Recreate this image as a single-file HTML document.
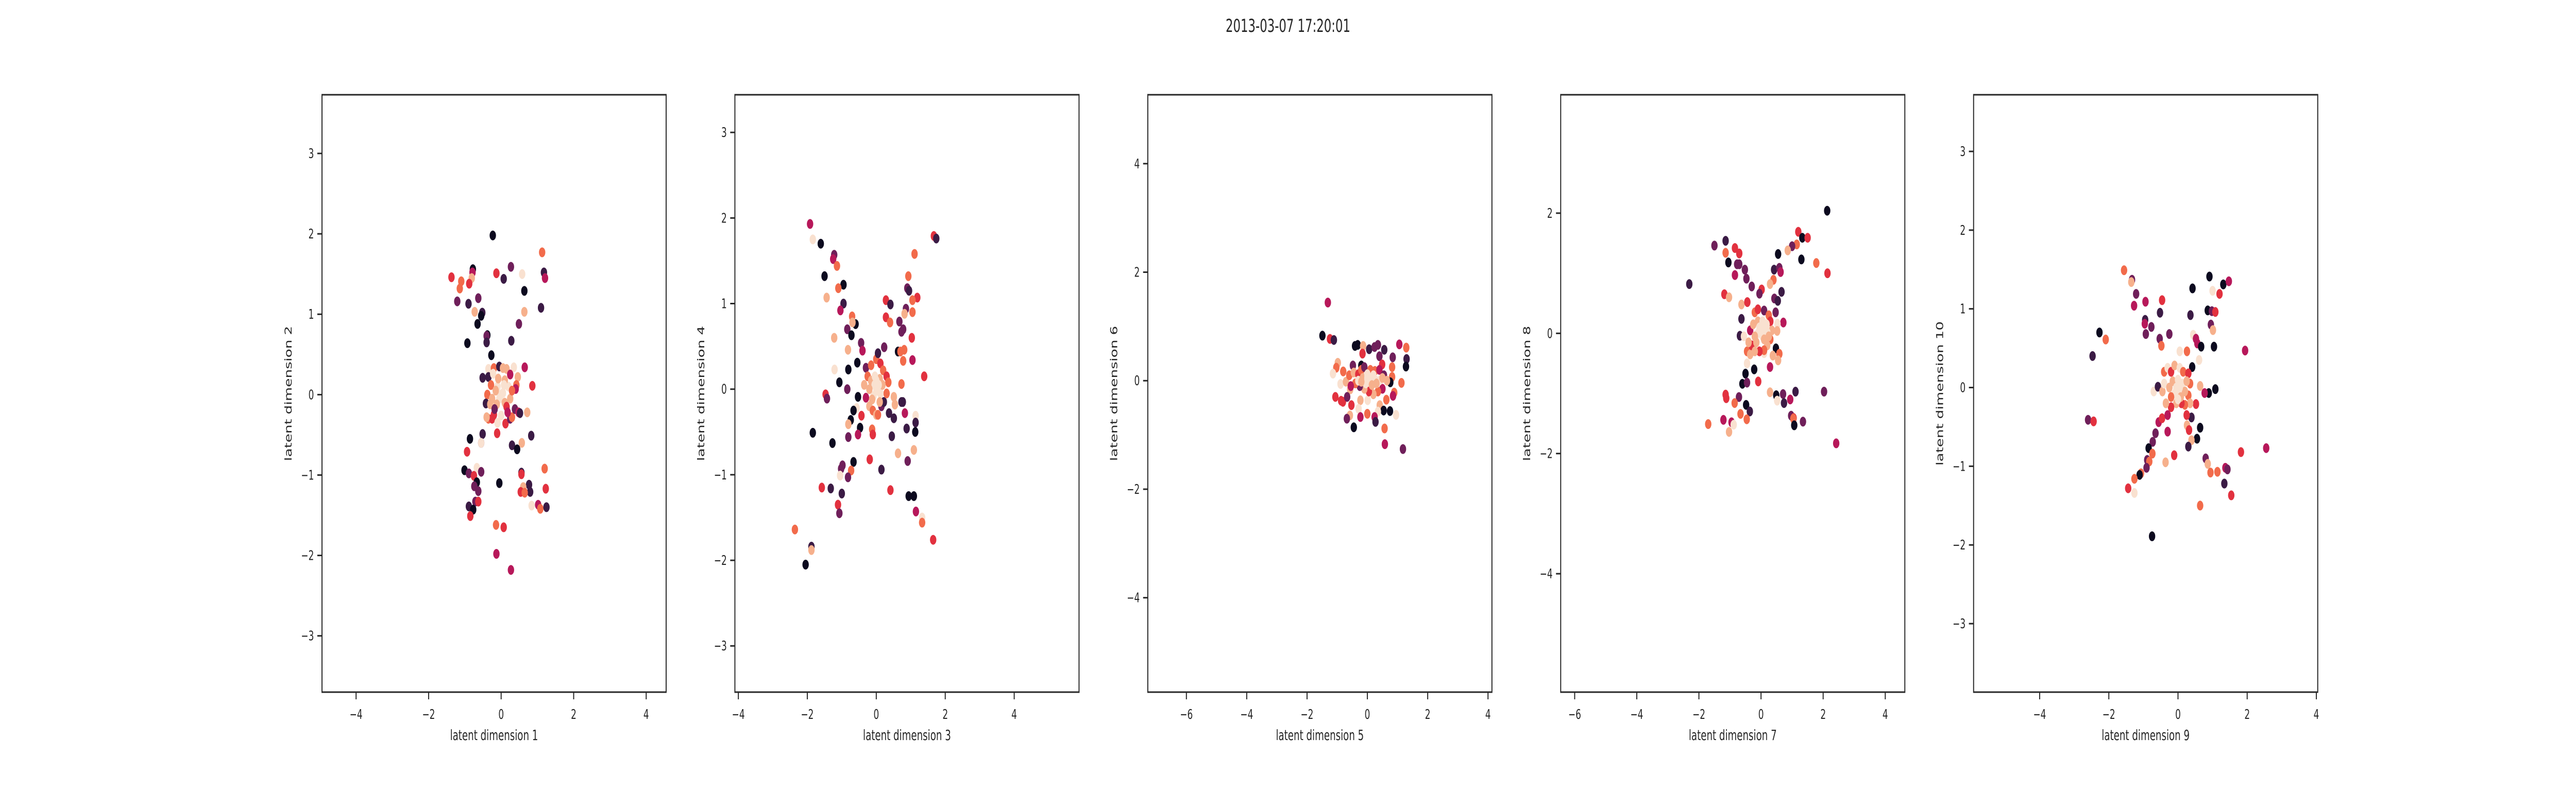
<!DOCTYPE html>
<html><head><meta charset="utf-8"><style>
html,body{margin:0;padding:0;background:#fff;overflow:hidden;width:100vw;height:100vh;}
svg{display:block;width:100vw;height:100vh;font-family:"DejaVu Sans","Liberation Sans",sans-serif;}
</style></head><body>
<svg id="fig" viewBox="0 0 7680 1536" preserveAspectRatio="none" xmlns="http://www.w3.org/2000/svg">
<rect width="7680" height="1536" fill="#fff"/>
<text x="3840" y="62" font-size="35" text-anchor="middle" fill="#262626">2013-03-07 17:20:01</text>
</svg>
<script>
const palette = ["#0c0a1f","#3b1b45","#6f1f5a","#b7185a","#e2313f","#f26b4b","#f6b08c","#f9e1d0"];
const xLabels = ["latent dimension 1","latent dimension 3","latent dimension 5","latent dimension 7","latent dimension 9"];
const yLabels = ["latent dimension 2","latent dimension 4","latent dimension 6","latent dimension 8","latent dimension 10"];
const xDomains = [[-4.94,4.55],[-4.10,5.88],[-7.28,4.13],[-6.45,4.63],[-5.91,4.04]];
const yDomains = [[-3.70,3.73],[-3.54,3.44],[-5.74,5.27],[-5.97,3.97],[-3.87,3.72]];
const xTicks = [[-4,-2,0,2,4],[-4,-2,0,2,4],[-6,-4,-2,0,2,4],[-6,-4,-2,0,2,4],[-4,-2,0,2,4]];
const yTicks = [[-3,-2,-1,0,1,2,3],[-3,-2,-1,0,1,2,3],[-4,-2,0,2,4],[-4,-2,0,2],[-3,-2,-1,0,1,2,3]];

const points1 = [[-0.23,1.98,0],[1.13,1.77,5],[0.27,1.59,2],[-0.78,1.56,0],[-0.79,1.52,3],[-0.13,1.51,4],[0.58,1.50,7],[1.18,1.52,1],[1.21,1.45,3],[-1.37,1.46,4],[0.07,1.44,1],[-1.10,1.41,5],[-0.81,1.45,6],[-0.88,1.38,4],[-1.14,1.32,5],[0.64,1.29,0],[-1.21,1.16,2],[-0.63,1.20,2],[-0.90,1.13,1],[1.10,1.08,1],[-0.73,1.03,6],[-0.52,1.02,1],[-0.55,0.98,0],[0.64,1.03,6],[-0.65,0.88,0],[0.49,0.88,2],[-0.38,0.74,0],[-0.40,0.73,2],[-0.40,0.65,1],[0.28,0.67,1],[-0.93,0.64,0],[-0.27,0.49,0],[0.65,0.34,3],[0.86,0.11,4],[-0.51,0.21,1],[0.72,-0.22,6],[-0.86,-0.55,0],[-0.51,-0.49,1],[-0.11,-0.48,4],[-0.55,-0.60,2],[-0.55,-0.60,7],[0.57,-0.60,6],[0.83,-0.51,1],[0.30,-0.63,1],[0.44,-0.68,0],[-0.94,-0.71,4],[-0.67,-0.91,7],[-1.01,-0.94,0],[-0.89,-0.98,2],[-0.55,-0.96,2],[-0.75,-1.01,4],[0.56,-0.97,1],[0.56,-0.99,4],[1.20,-0.92,5],[-0.67,-1.09,0],[-0.05,-1.10,0],[-0.74,-1.14,2],[-0.63,-1.20,2],[0.77,-1.12,1],[0.61,-1.15,6],[0.54,-1.21,4],[0.80,-1.21,1],[0.65,-1.22,5],[1.23,-1.17,4],[-0.71,-1.33,2],[-0.63,-1.33,4],[-0.89,-1.39,1],[-0.77,-1.43,0],[0.84,-1.38,7],[1.02,-1.37,3],[1.08,-1.42,5],[1.25,-1.40,1],[-0.85,-1.51,4],[-0.14,-1.62,5],[0.07,-1.65,4],[-0.13,-1.98,3],[0.27,-2.18,3],
[-0.35,0.32,7],[-0.2,0.33,5],[-0.05,0.35,1],[0.05,0.33,6],[0.15,0.32,6],[0.35,0.34,7],[0.25,0.25,3],[0.46,0.22,6],[0.42,0.12,5],[0.4,0.07,3],[-0.35,0.22,1],[-0.22,0.26,7],[-0.28,0.12,5],[-0.38,0.0,5],[-0.42,-0.11,1],[-0.3,-0.12,6],[-0.2,-0.25,4],[-0.35,-0.3,5],[-0.25,-0.3,4],[-0.4,-0.28,6],[-0.1,-0.35,7],[0.0,-0.26,7],[0.12,-0.36,4],[0.25,-0.3,2],[0.3,-0.28,5],[0.38,-0.18,2],[0.48,-0.22,3],[0.52,-0.23,1],[0.25,-0.05,6],[0.2,0.1,7],[0.1,0.18,6],[-0.1,0.1,7],[-0.05,-0.05,7],[0.05,0.02,7],[0.0,0.0,7],[-0.12,-0.12,6],[0.1,-0.1,6],[0.15,-0.15,4],[-0.15,0.05,6],[0.08,0.12,7],[-0.08,0.2,6],[0.3,0.05,5],[-0.25,-0.05,6],[0.18,-0.22,3],[-0.18,-0.18,2]];

const points2 = [[-1.92,1.93,3],[-1.84,1.75,7],[-1.61,1.70,0],[1.67,1.79,4],[1.74,1.76,1],[-1.22,1.57,2],[-1.25,1.52,3],[-1.14,1.44,5],[1.11,1.58,5],[-1.50,1.32,0],[0.93,1.32,5],[-0.95,1.22,0],[-1.10,1.18,5],[0.90,1.18,2],[0.95,1.15,1],[1.19,1.07,4],[-1.44,1.07,6],[0.28,1.04,4],[1.05,1.04,5],[0.41,0.99,1],[-0.95,1.00,1],[-1.04,0.92,3],[0.86,0.94,2],[1.05,0.90,5],[0.82,0.88,6],[-0.70,0.85,5],[0.28,0.84,4],[-0.60,0.76,0],[-0.69,0.78,6],[0.40,0.78,5],[0.67,0.79,2],[-0.84,0.70,2],[0.78,0.70,2],[0.73,0.67,2],[-0.72,0.63,0],[-1.22,0.60,6],[1.03,0.60,4],[-0.44,0.54,2],[0.23,0.49,2],[-0.82,0.46,6],[-0.40,0.45,3],[0.63,0.44,0],[0.70,0.44,5],[0.81,0.46,5],[0.78,0.33,5],[1.05,0.34,3],[-0.55,0.31,0],[-1.21,0.23,7],[-0.81,0.23,0],[1.39,0.15,4],[0.73,0.06,5],[-1.07,0.08,0],[-0.84,0.00,2],[-1.47,-0.06,4],[-1.43,-0.11,2],[-0.53,-0.09,0],[0.51,-0.09,6],[0.54,-0.18,6],[0.73,-0.15,1],[0.77,-0.15,1],[-0.57,-0.22,7],[-0.66,-0.25,0],[-0.74,-0.36,0],[-0.43,-0.31,4],[0.37,-0.28,1],[0.51,-0.34,1],[0.83,-0.28,3],[1.14,-0.31,7],[1.14,-0.39,1],[-0.81,-0.41,6],[-0.47,-0.45,0],[0.88,-0.46,1],[-0.12,-0.47,5],[-0.10,-0.53,4],[-0.53,-0.53,3],[-0.81,-0.56,2],[0.45,-0.55,1],[-1.84,-0.51,0],[1.13,-0.50,0],[-1.27,-0.63,0],[0.63,-0.75,6],[1.09,-0.71,6],[-0.19,-0.82,4],[0.91,-0.84,2],[-0.66,-0.85,0],[-0.98,-0.89,2],[-1.02,-0.93,2],[0.15,-0.94,1],[-0.73,-0.95,5],[-1.05,-1.01,7],[-0.82,-1.03,2],[-1.58,-1.15,4],[-1.32,-1.16,1],[0.41,-1.18,4],[-1.00,-1.22,1],[0.94,-1.25,0],[1.09,-1.25,0],[-1.11,-1.35,4],[-1.07,-1.45,2],[1.15,-1.43,3],[1.33,-1.50,7],[1.33,-1.56,5],[-2.36,-1.64,5],[1.65,-1.76,4],[-1.88,-1.84,1],[-1.88,-1.88,6],[-2.05,-2.05,0],
[-0.3,0.25,2],[-0.15,0.28,5],[0.0,0.35,5],[0.05,0.42,1],[0.12,0.3,4],[0.2,0.22,5],[0.3,0.15,4],[0.35,0.08,5],[-0.25,0.15,5],[-0.35,0.05,6],[-0.3,-0.1,3],[-0.2,-0.2,6],[-0.1,-0.25,5],[0.0,-0.3,6],[0.05,-0.3,5],[0.15,-0.2,2],[0.22,-0.15,1],[0.3,-0.05,5],[-0.15,0.1,6],[0.1,0.12,6],[-0.05,0.05,7],[0.05,-0.02,7],[0.0,0.1,7],[-0.08,-0.08,7],[0.12,-0.05,7],[0.1,-0.15,6],[-0.12,-0.12,6],[0.18,0.05,6],[-0.2,0.0,6],[0.0,0.0,7],[0.07,0.05,7],[-0.04,0.15,7]];

const points3 = [[-1.31,1.44,3],[-1.49,0.83,0],[-1.24,0.77,4],[-1.11,0.75,1],[-0.41,0.64,0],[-0.32,0.66,0],[-0.14,0.64,6],[0.06,0.58,1],[0.24,0.62,2],[0.35,0.66,2],[0.56,0.57,1],[1.06,0.67,3],[1.29,0.61,5],[-0.16,0.50,4],[0.40,0.45,2],[0.84,0.43,2],[1.30,0.40,1],[1.28,0.26,0],[-0.98,0.33,6],[-1.03,0.24,5],[-0.48,0.28,2],[-0.20,0.28,0],[0.49,0.30,4],[0.82,0.25,5],[-0.80,0.17,5],[-1.14,0.13,7],[0.82,0.07,5],[1.13,-0.04,5],[-0.89,-0.06,7],[-0.71,-0.02,6],[0.76,-0.03,0],[-0.57,-0.16,6],[-1.06,-0.30,4],[-0.87,-0.37,4],[-0.81,-0.39,4],[-0.67,-0.30,2],[0.89,-0.22,5],[0.85,-0.28,3],[0.63,-0.35,5],[-0.23,-0.36,6],[0.01,-0.36,7],[-0.53,-0.45,4],[0.41,-0.45,6],[-0.29,-0.52,7],[0.54,-0.55,0],[0.75,-0.56,0],[0.35,-0.57,7],[-0.58,-0.64,6],[0.00,-0.61,5],[0.95,-0.63,7],[-0.23,-0.67,3],[-0.68,-0.70,2],[0.24,-0.67,3],[0.27,-0.76,1],[-0.45,-0.86,0],[0.57,-0.88,5],[0.58,-1.17,3],[1.18,-1.26,2],
[-0.6,0.1,5],[-0.45,0.15,6],[-0.3,0.12,4],[-0.2,0.2,5],[-0.1,0.25,2],[0.1,0.2,5],[0.25,0.18,5],[0.4,0.2,3],[0.55,0.1,2],[0.65,0.0,6],[0.5,-0.15,3],[0.35,-0.2,5],[0.2,-0.25,6],[0.05,-0.2,4],[-0.1,-0.15,6],[-0.25,-0.1,2],[-0.4,-0.05,5],[-0.55,-0.1,3],[-0.3,0.0,7],[-0.15,0.05,6],[0.0,0.05,7],[0.1,0.0,7],[0.25,0.02,7],[0.4,0.0,7],[-0.05,-0.05,7],[0.15,-0.08,6],[0.3,-0.05,6],[-0.2,-0.02,6],[0.0,0.12,7],[0.5,0.05,6],[0.2,0.1,7]];

const points4 = [[2.13,2.04,0],[1.20,1.69,4],[1.33,1.59,0],[1.50,1.59,4],[1.15,1.48,5],[1.00,1.45,2],[0.86,1.38,6],[0.55,1.32,0],[1.30,1.23,0],[1.78,1.17,5],[2.14,1.00,4],[-1.14,1.54,1],[-1.50,1.46,2],[-0.84,1.42,4],[-1.14,1.34,5],[-0.70,1.33,4],[-1.05,1.18,0],[-0.77,1.15,2],[-0.70,1.15,2],[-0.52,1.06,2],[0.42,1.06,1],[0.59,1.09,2],[0.63,1.02,3],[-0.84,0.97,3],[-0.47,0.91,2],[0.40,0.89,5],[-2.31,0.82,1],[0.29,0.82,6],[-0.30,0.78,2],[0.02,0.73,4],[0.66,0.69,1],[-0.05,0.66,2],[-1.18,0.65,4],[-1.03,0.60,6],[0.43,0.58,2],[0.54,0.54,1],[-0.63,0.48,6],[-0.44,0.52,4],[0.47,0.35,2],[-0.63,0.24,1],[0.72,0.18,3],[0.53,0.16,7],[0.52,0.04,6],[-0.68,-0.04,1],[-0.55,-0.05,7],[0.48,-0.25,0],[0.59,-0.34,5],[0.38,-0.37,6],[0.10,-0.33,7],[0.55,-0.45,6],[-0.45,-0.50,7],[-0.22,-0.60,0],[0.29,-0.56,3],[-0.50,-0.67,0],[-0.09,-0.80,4],[-0.60,-0.84,0],[-0.45,-0.82,2],[1.11,-0.97,1],[2.03,-0.97,2],[0.29,-0.98,6],[0.49,-1.03,0],[0.71,-1.01,2],[-1.14,-1.02,4],[-1.12,-1.08,4],[-0.71,-1.06,2],[0.52,-1.12,7],[0.94,-1.10,3],[0.74,-1.16,1],[-0.85,-1.16,5],[-0.48,-1.19,0],[-0.36,-1.30,1],[-0.66,-1.34,5],[0.97,-1.37,2],[1.05,-1.41,4],[1.04,-1.42,5],[-1.21,-1.44,3],[-0.46,-1.43,5],[-0.95,-1.48,3],[1.35,-1.47,2],[-1.70,-1.51,5],[-0.88,-1.52,7],[1.07,-1.53,0],[-1.03,-1.64,6],[2.42,-1.83,3],
[-0.45,-0.3,5],[-0.35,-0.35,6],[-0.3,-0.2,4],[-0.2,0.35,5],[-0.1,0.4,4],[0.1,0.38,2],[0.25,0.3,5],[0.3,0.2,4],[0.35,0.05,6],[0.3,-0.1,5],[0.2,-0.2,6],[0.1,-0.28,5],[-0.05,-0.3,4],[-0.2,-0.3,6],[-0.4,-0.15,6],[-0.35,0.05,3],[-0.25,0.15,6],[-0.1,0.2,6],[0.05,0.2,7],[0.18,0.15,7],[0.2,0.02,7],[0.05,-0.05,7],[-0.1,0.0,7],[-0.2,-0.05,6],[0.0,0.08,7],[0.1,-0.1,6],[-0.15,-0.15,6],[0.12,0.08,7],[-0.05,0.1,7],[0.25,-0.05,6]];

const points5 = [[-1.56,1.49,5],[-1.33,1.37,2],[-1.35,1.34,6],[0.91,1.41,0],[1.31,1.31,0],[1.47,1.35,3],[0.42,1.26,0],[1.00,1.23,7],[1.20,1.19,4],[-1.21,1.19,2],[-0.94,1.09,3],[-0.46,1.11,4],[-1.27,1.04,3],[-0.52,0.95,1],[0.36,0.92,1],[0.86,0.98,0],[0.98,0.97,2],[1.08,0.96,4],[-0.95,0.86,1],[-0.96,0.81,3],[-0.77,0.77,2],[0.95,0.80,2],[1.01,0.73,6],[-2.27,0.70,0],[-0.93,0.68,2],[-0.25,0.68,2],[0.44,0.67,7],[-2.09,0.61,5],[-0.53,0.62,2],[0.52,0.62,3],[0.56,0.56,3],[0.67,0.52,0],[1.04,0.52,0],[-0.48,0.53,5],[0.05,0.46,7],[0.26,0.46,5],[1.94,0.47,3],[-2.47,0.40,1],[0.61,0.35,7],[0.41,0.26,0],[0.64,0.02,6],[1.08,-0.02,0],[0.89,-0.07,0],[0.77,-0.07,3],[-0.70,-0.05,7],[-0.58,0.01,1],[0.52,-0.21,4],[0.39,-0.38,1],[0.26,-0.48,6],[0.32,-0.54,4],[0.64,-0.51,0],[-2.60,-0.41,2],[-2.44,-0.43,4],[-0.56,-0.44,3],[-0.46,-0.39,4],[-0.30,-0.56,3],[-0.65,-0.58,2],[0.55,-0.65,0],[0.39,-0.67,6],[-0.73,-0.69,2],[0.30,-0.75,1],[-0.85,-0.77,0],[-0.74,-0.84,5],[-0.11,-0.86,4],[1.82,-0.82,4],[2.55,-0.77,3],[0.80,-0.90,2],[-0.89,-0.92,2],[-0.83,-0.94,5],[-0.36,-0.95,6],[0.86,-0.97,6],[-0.91,-1.02,2],[1.37,-1.02,3],[1.43,-1.04,2],[0.94,-1.08,5],[1.14,-1.07,5],[-1.07,-1.09,5],[-1.11,-1.11,0],[-1.26,-1.16,5],[1.34,-1.22,1],[-1.44,-1.28,4],[-1.26,-1.34,7],[1.54,-1.37,4],[0.64,-1.50,5],[-0.75,-1.89,0],
[-0.4,0.2,5],[-0.3,0.25,7],[-0.2,0.2,4],[-0.1,0.28,6],[0.05,0.25,7],[0.15,0.2,5],[0.3,0.18,4],[0.35,0.05,5],[0.3,-0.1,5],[0.35,-0.2,6],[0.2,-0.22,5],[0.1,-0.2,4],[-0.05,-0.2,6],[-0.2,-0.25,4],[-0.35,-0.2,6],[-0.45,-0.05,6],[-0.4,0.05,7],[-0.25,0.0,6],[-0.15,0.08,6],[0.0,0.1,7],[0.12,0.05,7],[0.2,-0.05,6],[0.0,-0.05,7],[-0.1,-0.08,7],[0.08,-0.12,6],[-0.2,-0.12,5],[0.25,0.08,6],[-0.05,0.0,7],[0.05,0.0,7],[0.0,-0.15,7],[-0.3,-0.35,3],[0.25,-0.35,4]];

const allPoints = [points1, points2, points3, points4, points5];

const NS = "http://www.w3.org/2000/svg";
const svg = document.getElementById("fig");
const PANEL_LEFT = 960, PANEL_STEP = 1231, PW = 1026, PT = 184, PH = 1160;
const INK = "#262626";

function mk(tag, attrs, parent) {
  const e = document.createElementNS(NS, tag);
  for (const k in attrs) e.setAttribute(k, attrs[k]);
  parent.appendChild(e);
  return e;
}
function fmt(v) { return v < 0 ? "\u2212" + Math.abs(v) : String(v); }

for (let p = 0; p < 5; p++) {
  const L = PANEL_LEFT + p * PANEL_STEP;
  const xd = xDomains[p], yd = yDomains[p];
  const sx = v => L + (v - xd[0]) / (xd[1] - xd[0]) * PW;
  const sy = v => PT + PH - (v - yd[0]) / (yd[1] - yd[0]) * PH;

  const g = mk("g", {}, svg);
  
  

  const pts = mk("g", {}, g);
  
  
  for (const d of allPoints[p]) {
    const c = mk("circle", {cx: sx(d[0]).toFixed(1), cy: sy(d[1]).toFixed(1), r: 9.5, fill: palette[d[2]]}, pts);
    
    
  }

  const frame = mk("rect", {x: L, y: PT, width: PW, height: PH, fill: "none", stroke: INK, "stroke-width": 3}, g);
  
  

  for (const t of xTicks[p]) {
    const x = sx(t);
    const tl = mk("line", {x1: x, x2: x, y1: PT + PH, y2: PT + PH + 14, stroke: INK, "stroke-width": 3}, g);
    
    
    const tx = mk("text", {x: x, y: PT + PH + 52, "font-size": 26, "text-anchor": "middle", fill: INK}, g);
    tx.textContent = fmt(t);
    
    
  }
  for (const t of yTicks[p]) {
    const y = sy(t);
    const tl = mk("line", {x1: L - 14, x2: L, y1: y, y2: y, stroke: INK, "stroke-width": 3}, g);
    
    
    const ty = mk("text", {x: L - 24, y: y + 9, "font-size": 26, "text-anchor": "end", fill: INK}, g);
    ty.textContent = fmt(t);
    
    
  }
  const xl = mk("text", {x: L + PW / 2, y: 1437, "font-size": 28, "text-anchor": "middle", fill: INK}, g);
  xl.textContent = xLabels[p];
  
  
  const cy = PT + PH / 2;
  const yl = mk("text", {x: L - 91, y: cy, "font-size": 28, "text-anchor": "middle", fill: INK, transform: "rotate(-90 " + (L - 91) + " " + cy + ")"}, g);
  yl.textContent = yLabels[p];
  
  
}
</script>
</body></html>
